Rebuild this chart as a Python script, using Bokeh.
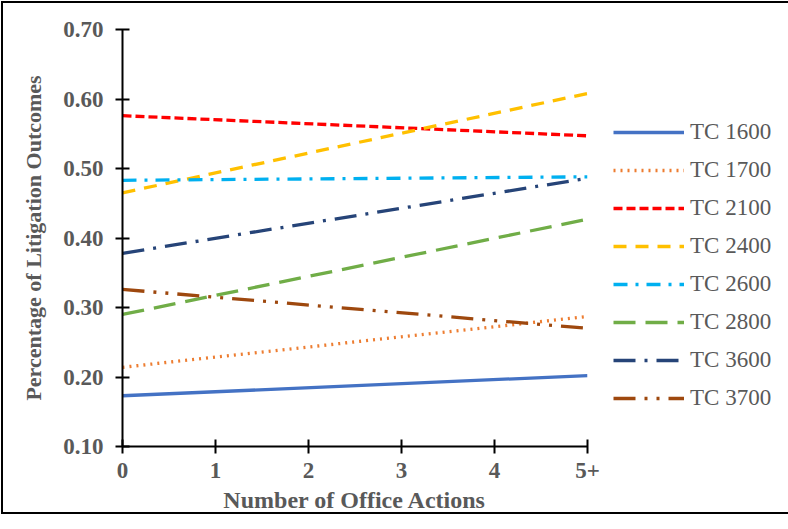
from bokeh.plotting import figure
from bokeh.models import Legend, LegendItem, FixedTicker, Range1d
from bokeh.embed import file_html
from bokeh.resources import INLINE

# ---- data (linear trend lines, start and end values) ----
x_ticks = [0, 1, 2, 3, 4, 5]
x_labels = ["0", "1", "2", "3", "4", "5+"]
x_ends = [0, 5]
y_ticks = [0.10, 0.20, 0.30, 0.40, 0.50, 0.60, 0.70]

series_names = ["TC 1600", "TC 1700", "TC 2100", "TC 2400", "TC 2600", "TC 2800", "TC 3600", "TC 3700"]
tc1600 = [0.173, 0.202]
tc1700 = [0.214, 0.287]
tc2100 = [0.576, 0.547]
tc2400 = [0.465, 0.608]
tc2600 = [0.483, 0.488]
tc2800 = [0.290, 0.427]
tc3600 = [0.378, 0.486]
tc3700 = [0.326, 0.270]
series_values = [tc1600, tc1700, tc2100, tc2400, tc2600, tc2800, tc3600, tc3700]

colors = ["#4472C4", "#ED7D31", "#FF0000", "#FFC000", "#00B0F0", "#70AD47", "#264478", "#9E480E"]
dashes = ["solid", "2 5", "9 4", "13 9", "14 8 3 8", "22 10", "22 9 3 9", "22 9 3 9 3 9"]

p = figure(frame_width=465, frame_height=417, output_backend="svg", toolbar_location=None,
           x_range=Range1d(0, 5), y_range=Range1d(0.10, 0.70),
           min_border_left=122, min_border_right=0, min_border_top=29, min_border_bottom=67)
p.outline_line_color = None
p.border_fill_alpha = 0
p.xgrid.visible = False
p.ygrid.visible = False
p.styles = {"outline": "2px solid black", "outline-offset": "-3px"}

items = []
for name, vals, c, d in zip(series_names, series_values, colors, dashes):
    r = p.line(x_ends, vals, line_color=c, line_width=3.3, line_dash=d)
    items.append(LegendItem(label=name, renderers=[r]))

grey = "#595959"
for ax in (p.xaxis[0], p.yaxis[0]):
    ax.axis_line_color = "black"
    ax.axis_line_width = 2
    ax.major_tick_line_color = "black"
    ax.major_tick_line_width = 2
    ax.major_tick_in = 7
    ax.major_tick_out = 7
    ax.minor_tick_line_color = None
    ax.major_label_text_font = "Liberation Serif"
    ax.major_label_text_font_style = "bold"
    ax.major_label_text_font_size = "23px"
    ax.major_label_text_color = grey
    ax.axis_label_text_font = "Liberation Serif"
    ax.axis_label_text_font_style = "bold"
    ax.axis_label_text_color = grey

p.xaxis.ticker = FixedTicker(ticks=x_ticks)
p.xaxis.major_label_overrides = {t: l for t, l in zip(x_ticks, x_labels)}
p.xaxis.major_label_standoff = 9
p.xaxis.axis_label = "Number of Office Actions"
p.xaxis.axis_label_standoff = 6
p.xaxis.axis_label_text_font_size = "24px"

p.yaxis.ticker = FixedTicker(ticks=y_ticks)
p.yaxis.major_label_overrides = {t: f"{t:.2f}" for t in y_ticks}
p.yaxis.major_label_standoff = 12
p.yaxis.axis_label = "Percentage of Litigation Outcomes"
p.yaxis.axis_label_standoff = 14
p.yaxis.axis_label_text_font_size = "22px"

legend = Legend(items=items, location=(26, 35), orientation="vertical",
                glyph_width=71, glyph_height=26, label_height=26, spacing=12,
                label_standoff=6, padding=0, margin=0,
                border_line_color=None, background_fill_alpha=0,
                label_text_font="Liberation Serif", label_text_font_size="23px",
                label_text_color=grey)
p.add_layout(legend, "right")

open("out.html", "w").write(file_html(p, INLINE))
